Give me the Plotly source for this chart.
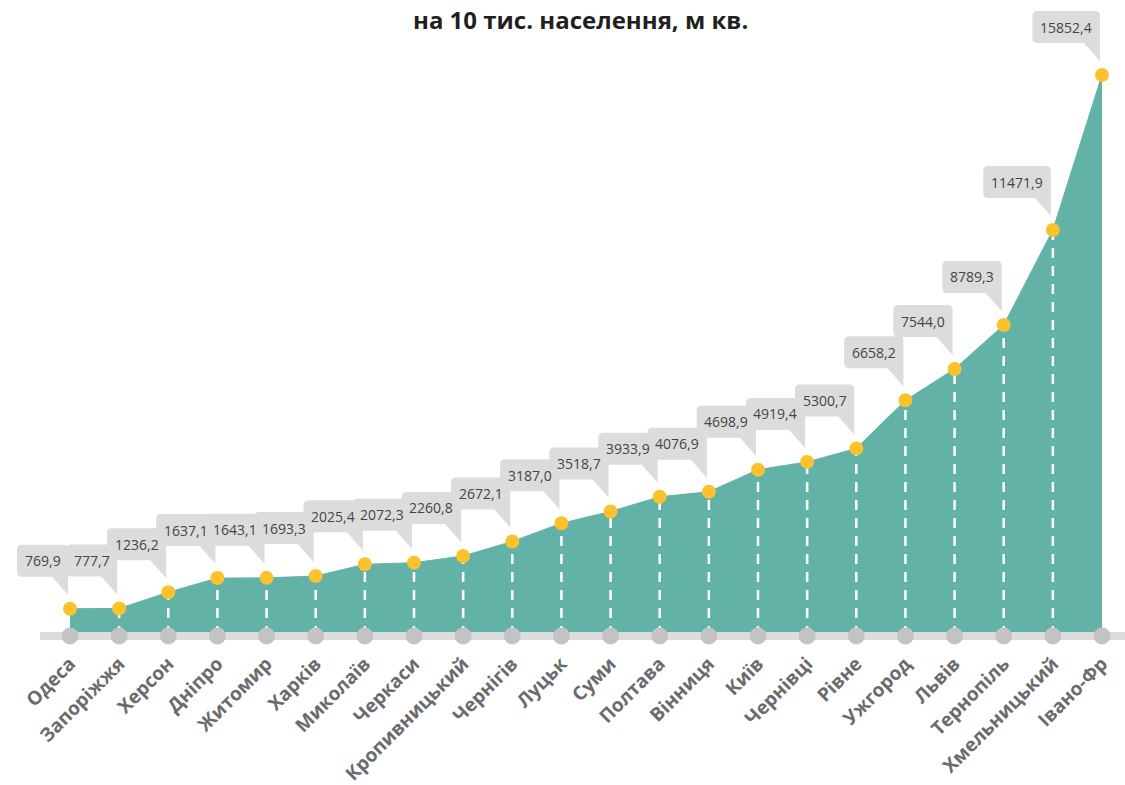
import plotly.graph_objects as go

cities = ["Одеса", "Запоріжжя", "Херсон", "Дніпро", "Житомир", "Харків", "Миколаїв",
          "Черкаси", "Кропивницький", "Чернігів", "Луцьк", "Суми", "Полтава", "Вінниця",
          "Київ", "Чернівці", "Рівне", "Ужгород", "Львів", "Тернопіль", "Хмельницький",
          "Івано-Фр"]
values = [769.9, 777.7, 1236.2, 1637.1, 1643.1, 1693.3, 2025.4, 2072.3, 2260.8, 2672.1,
          3187.0, 3518.7, 3933.9, 4076.9, 4698.9, 4919.4, 5300.7, 6658.2, 7544.0, 8789.3,
          11471.9, 15852.4]
title_text = "на 10 тис. населення, м кв."

W, H = 1125, 785
TEAL = "#62b2a8"
YELLOW = "#fbc22e"
BAND = "#dcdcdc"
GDOT = "#c3c3c3"
BUBBLE = "#dcdcdc"

n = len(values)
idx = list(range(n))

# geometry of the plot area in pixels
left_px, right_px = 70, 1102          # centres of first / last point
base_px, top_px = 636, 75             # y of zero and of the max value
plot_bottom = 648                      # bottom of plotting area
sx = (right_px - left_px) / (n - 1)
x0 = -left_px / sx
x1 = x0 + W / sx
ky = (base_px - top_px) / max(values)
y0 = -(plot_bottom - base_px) / ky
y1 = base_px / ky

fig = go.Figure()

# area
fig.add_trace(go.Scatter(x=idx, y=values, mode="lines", fill="tozeroy",
                         fillcolor=TEAL, line=dict(color=TEAL, width=1),
                         hoverinfo="skip"))
# dashed white verticals (interior points)
dx, dy = [], []
for i in idx[1:-1]:
    dx += [i, i, None]
    dy += [0, values[i], None]
fig.add_trace(go.Scatter(x=dx, y=dy, mode="lines",
                         line=dict(color="white", width=2.5, dash="10px,8px"),
                         hoverinfo="skip"))
# baseline band
fig.add_trace(go.Scatter(x=[x0 + 40 / sx, x1], y=[0, 0], mode="lines",
                         line=dict(color=BAND, width=8), hoverinfo="skip"))
# grey baseline dots
fig.add_trace(go.Scatter(x=idx, y=[0] * n, mode="markers",
                         marker=dict(color=GDOT, size=17), hoverinfo="skip"))
# yellow value dots
fig.add_trace(go.Scatter(x=idx, y=values, mode="markers",
                         marker=dict(color=YELLOW, size=14), hoverinfo="skip"))

# callout bubbles
shapes, annotations = [], []
FS = 14
for i, v in enumerate(values):
    label = f"{v:.1f}".replace(".", ",")
    tw = sum(3.8 if ch == "," else 8.3 for ch in label)
    w = tw + 14
    R = -2
    L = R - w
    B = 32
    T = B + 32
    tip = 14
    r = 5
    path = (f"M {L + r},{B} L {R - 16},{B} L {R},{tip} L {R},{T - r} "
            f"Q {R},{T} {R - r},{T} L {L + r},{T} Q {L},{T} {L},{T - r} "
            f"L {L},{B + r} Q {L},{B} {L + r},{B} Z")
    shapes.append(dict(type="path", xref="x", yref="y", xsizemode="pixel",
                       ysizemode="pixel", xanchor=i, yanchor=v, path=path,
                       fillcolor=BUBBLE, line=dict(width=0), layer="above"))
    annotations.append(dict(x=i, y=v, xref="x", yref="y", text=label,
                            showarrow=False, xshift=(L + R) / 2, yshift=(B + T) / 2,
                            xanchor="center", yanchor="middle",
                            font=dict(family="Open Sans", size=FS, color="#454545")))

annotations.append(dict(x=580 / W, y=1, xref="paper", yref="paper", yshift=-19,
                        text=f"<b>{title_text}</b>", showarrow=False,
                        xanchor="center", yanchor="middle",
                        font=dict(family="Open Sans", size=24, color="#231f20")))

fig.update_layout(
    width=W, height=H, autosize=False,
    margin=dict(l=0, r=0, t=0, b=H - plot_bottom),
    plot_bgcolor="white", paper_bgcolor="white",
    showlegend=False,
    shapes=shapes, annotations=annotations,
    xaxis=dict(range=[x0, x1], tickmode="array", tickvals=idx,
               ticktext=[f"<b>{c}</b>" for c in cities], tickangle=-45,
               showgrid=False, zeroline=False, showline=False, ticks="",
               tickfont=dict(family="Open Sans", size=19, color="#6b6b6e")),
    yaxis=dict(range=[y0, y1], visible=False, showgrid=False, zeroline=False),
)

fig.write_html("out.html", config={"displayModeBar": False},
               post_script="document.body.style.margin='0';")
